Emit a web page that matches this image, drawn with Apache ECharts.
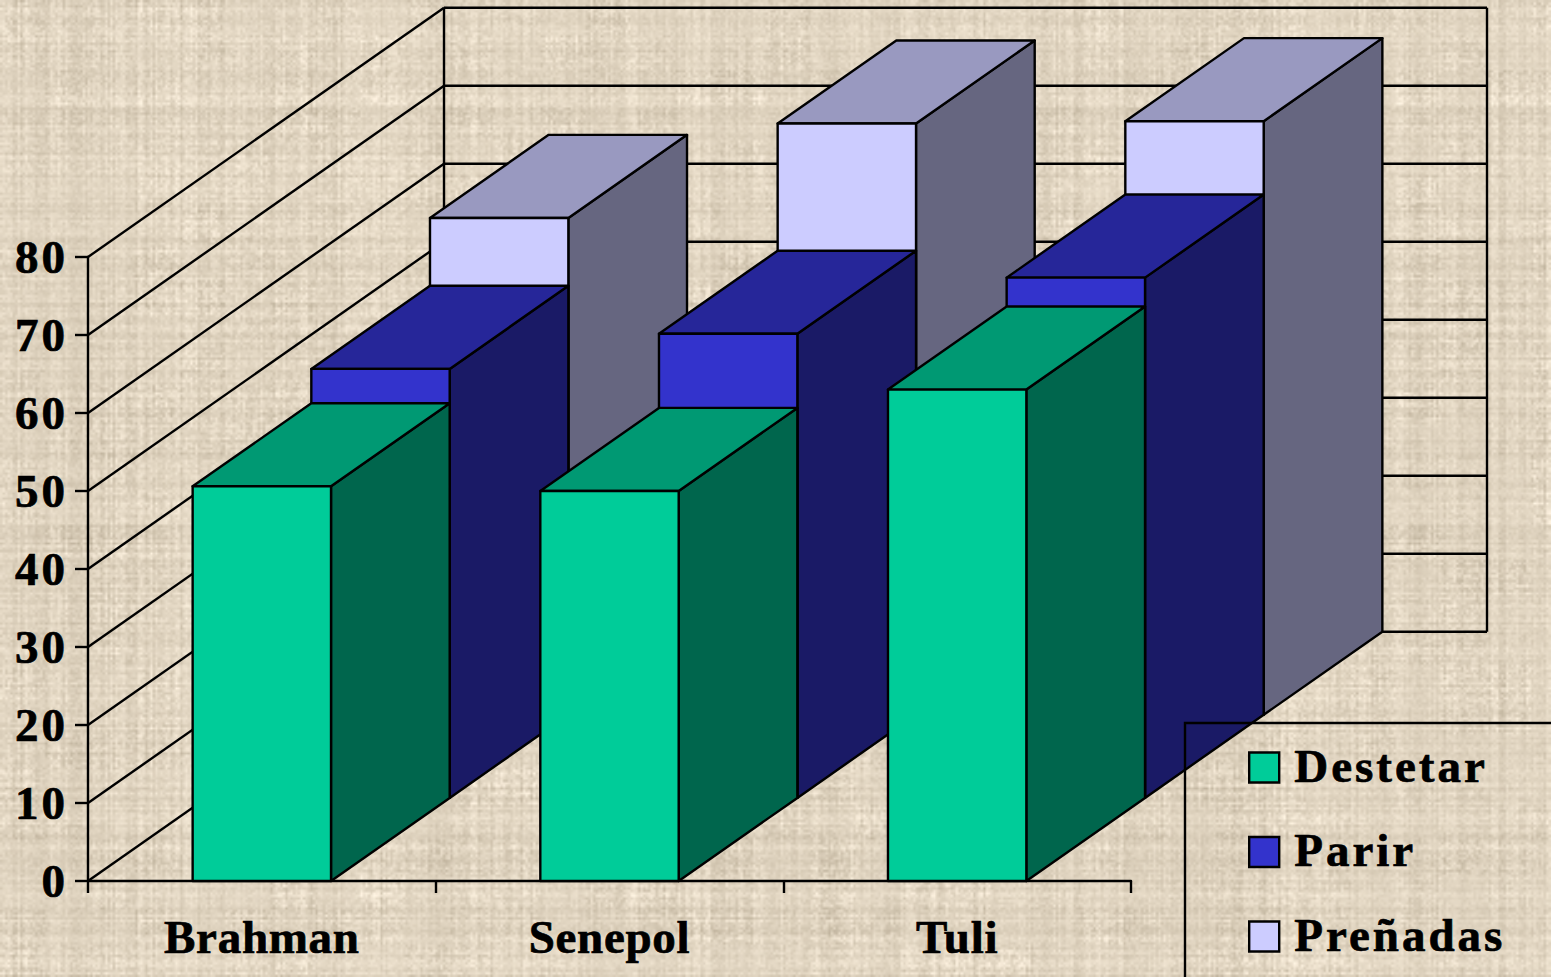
<!DOCTYPE html>
<html>
<head>
<meta charset="utf-8">
<style>
html,body{margin:0;padding:0;background:#ddd1bd;overflow:hidden}
#c{width:1551px;height:977px}
#c text{letter-spacing:3px;stroke:#000;stroke-width:.7px}
#c text[text-anchor=middle]{letter-spacing:.7px}
#c text[text-anchor=start]{translate:0 -2px}
</style>
<script src="https://cdn.jsdelivr.net/npm/echarts@6/dist/echarts.min.js"></script>
</head>
<body>
<div id="c"></div>
<script>
const categories = ['Brahman', 'Senepol', 'Tuli'];
const destetar = [50.6, 50, 63];
const parir = [55, 59.5, 66.7];
const prenadas = [63.7, 75.8, 76.1];
const yTicks = [0, 10, 20, 30, 40, 50, 60, 70, 80];

// woven burlap paper texture behind the chart (deterministic)
(function () {
  const W = 620, H = 391;
  const cv = document.createElement('canvas');
  cv.width = W; cv.height = H;
  const ctx = cv.getContext('2d');
  const img = ctx.createImageData(W, H);
  const h = (n) => { const s = Math.sin(n * 127.1 + 311.7) * 43758.5453; return s - Math.floor(s); };
  const cell = (x, y) => h(Math.floor(x / 18) * 17.3 + Math.floor(y / 14) * 91.7);
  for (let y = 0; y < H; y++) {
    for (let x = 0; x < W; x++) {
      const cx = h(x * 1.37 + 5) - 0.5;
      const ry = h(y * 2.11 + 900) - 0.5;
      const dither = h(x * 3.1 + y * 57.3) - 0.5;
      const amount = 0.55 + cell(x, y) * 0.6;
      const v = (cx * 20 + ry * 20 + dither * 26) * amount;
      const i = (y * W + x) * 4;
      img.data[i] = 224 + v;
      img.data[i + 1] = 212 + v * 1.02;
      img.data[i + 2] = 192 + v * 1.08;
      img.data[i + 3] = 255;
    }
  }
  ctx.putImageData(img, 0, 0);
  document.body.style.backgroundImage = 'url(' + cv.toDataURL() + ')';
  document.body.style.backgroundSize = '1551px 977px';
})();

const DX = 118.67, DY = -83.1, ROWS = 3, BAR_RATIO = 0.398;

function wallItem(params, api) {
  const kids = [];
  const line = (a, b, c, d) => kids.push({
    type: 'line', shape: { x1: a, y1: b, x2: c, y2: d }, style: { stroke: '#000', lineWidth: 2.4, fill: null }
  });
  const x0 = api.coord([0, 0])[0] - api.size([1, 0])[0] / 2;
  const x1 = x0 + api.size([1, 0])[0] * categories.length;
  const bx0 = x0 + DX * ROWS, bx1 = x1 + DX * ROWS, by = DY * ROWS;
  yTicks.forEach((t) => {
    const y = api.coord([0, t])[1];
    line(x0, y, bx0, y + by);
    line(bx0, y + by, bx1, y + by);
  });
  const yb = api.coord([0, 0])[1] + by, yt = api.coord([0, yTicks[yTicks.length - 1]])[1] + by;
  line(bx0, yb, bx0, yt);
  line(bx1, yb, bx1, yt);
  return { type: 'group', children: kids };
}

function barRenderer(row, front, top, side) {
  return function (params, api) {
    const w = api.size([1, 0])[0] * BAR_RATIO;
    const base = api.coord([api.value(0), 0]);
    const head = api.coord([api.value(0), api.value(1)]);
    const ox = DX * row, oy = DY * row;
    const l = base[0] - w / 2 + ox, r = base[0] + w / 2 + ox;
    const b = base[1] + oy, t = head[1] + oy;
    const poly = (pts, fill) => ({
      type: 'polygon', shape: { points: pts },
      style: { fill: fill, stroke: '#000', lineWidth: 2.4, lineJoin: 'round' }
    });
    return {
      type: 'group',
      children: [
        poly([[r, b], [r + DX, b + DY], [r + DX, t + DY], [r, t]], side),
        poly([[l, t], [r, t], [r + DX, t + DY], [l + DX, t + DY]], top),
        poly([[l, b], [r, b], [r, t], [l, t]], front)
      ]
    };
  };
}

const rows = (vals) => vals.map((v, i) => [i, v]);
const chart = echarts.init(document.getElementById('c'), null, { renderer: 'svg' });
const font = { fontFamily: '"Liberation Serif"', fontWeight: 'bold', fontSize: 47, color: '#000' };
chart.setOption({
  animation: false,
  backgroundColor: 'transparent',
  grid: { left: 88, top: 257, width: 1043, height: 624, outerBoundsMode: 'none', containLabel: false },
  xAxis: {
    type: 'category', data: categories,
    axisLine: { onZero: false, lineStyle: { color: '#000', width: 2.4 } },
    axisTick: { show: true, length: 12, lineStyle: { color: '#000', width: 2.4 } },
    axisLabel: Object.assign({ margin: 32, interval: 0 }, font),
    splitLine: { show: false }
  },
  yAxis: {
    type: 'value', min: 0, max: 80, interval: 10,
    axisLine: { show: true, lineStyle: { color: '#000', width: 2.4 } },
    axisTick: { show: true, length: 13, lineStyle: { color: '#000', width: 2.4 } },
    axisLabel: Object.assign({ margin: 20 }, font),
    splitLine: { show: false }
  },
  legend: {
    data: ['Destetar', 'Parir', 'Preñadas'],
    orient: 'vertical', left: 1185, top: 723, width: 600, height: 600,
    padding: [21, 250, 120, 63],
    itemWidth: 30, itemHeight: 30, itemGap: 37.5, icon: 'rect',
    borderColor: '#000', borderWidth: 2.4, backgroundColor: 'transparent',
    itemStyle: { borderColor: '#000', borderWidth: 2.4 },
    textStyle: Object.assign({ padding: [0, 0, 0, 10] }, font),
    selectedMode: false
  },
  tooltip: { show: false },
  series: [
    { type: 'custom', name: 'walls', silent: true, clip: false, data: [[0, 0]], encode: { x: 0, y: 1 }, renderItem: wallItem, z: 1 },
    { type: 'custom', name: 'Preñadas', clip: false, data: rows(prenadas), encode: { x: 0, y: 1 }, itemStyle: { color: '#CCCCFF' }, renderItem: barRenderer(2, '#CCCCFF', '#9999C0', '#666680'), z: 2 },
    { type: 'custom', name: 'Parir', clip: false, data: rows(parir), encode: { x: 0, y: 1 }, itemStyle: { color: '#3333CC' }, renderItem: barRenderer(1, '#3333CC', '#262699', '#1A1A66'), z: 3 },
    { type: 'custom', name: 'Destetar', clip: false, data: rows(destetar), encode: { x: 0, y: 1 }, itemStyle: { color: '#00CC99' }, renderItem: barRenderer(0, '#00CC99', '#009973', '#00664D'), z: 4 }
  ]
});
</script>
</body>
</html>
